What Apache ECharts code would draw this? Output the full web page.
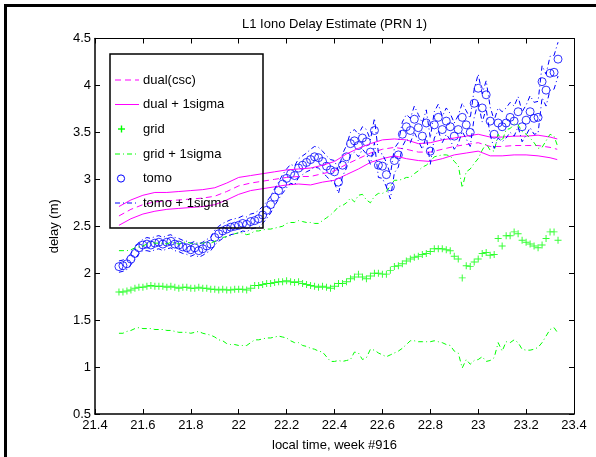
<!DOCTYPE html>
<html>
<head>
<meta charset="utf-8">
<title>L1 Iono Delay Estimate (PRN 1)</title>
<script src="https://cdn.jsdelivr.net/npm/echarts@6.0.0/dist/echarts.min.js"></script>
<style>
  html, body { margin: 0; padding: 0; background: #fff; }
  #chart { width: 596px; height: 457px; }
</style>
</head>
<body>
<div id="chart"></div>
<script>
  var FONT = '"Liberation Sans", Arial, Helvetica, sans-serif';

  // sample times: one sample per minute, 21.5 h .. 23.333 h
  var times = [];
  for (var k = 0; k <= 110; k++) {
    times.push(+(21.5 + k / 60).toFixed(4));
  }

  // tomographic estimate (circles)
  var tomo = [
    2.07, 2.08, 2.10, 2.15, 2.21, 2.27, 2.30, 2.31, 2.30, 2.32,
    2.33, 2.31, 2.33, 2.34, 2.31, 2.30, 2.28, 2.27, 2.25, 2.27,
    2.24, 2.26, 2.29, 2.31, 2.38, 2.42, 2.45, 2.47, 2.49, 2.50,
    2.51, 2.53, 2.52, 2.55, 2.56, 2.58, 2.62, 2.67, 2.73, 2.81,
    2.88, 2.95, 3.01, 3.06, 3.04, 3.12, 3.15, 3.18, 3.21, 3.24,
    3.23, 3.19, 3.14, 3.10, 3.08, 2.97, 3.15, 3.24, 3.38, 3.41,
    3.36, 3.44, 3.40, 3.29, 3.52, 3.15, 3.14, 3.05, 2.92, 3.20,
    3.26, 3.48, 3.56, 3.52, 3.64, 3.55, 3.46, 3.60, 3.30, 3.58,
    3.66, 3.53, 3.62, 3.56, 3.46, 3.53, 3.66, 3.58, 3.50, 3.81,
    3.97, 3.76, 3.90, 3.62, 3.48, 3.60, 3.56, 3.60, 3.66, 3.62,
    3.72, 3.56, 3.63, 3.72, 3.65, 3.66, 4.04, 3.95, 4.13, 4.14, 4.28
  ];
  var tomoSigma = [
    0.06, 0.06, 0.06, 0.06, 0.06, 0.06, 0.06, 0.07, 0.07, 0.07,
    0.07, 0.07, 0.07, 0.07, 0.07, 0.07, 0.07, 0.07, 0.07, 0.07,
    0.07, 0.07, 0.07, 0.07, 0.08, 0.08, 0.08, 0.08, 0.08, 0.08,
    0.08, 0.08, 0.08, 0.08, 0.08, 0.09, 0.09, 0.09, 0.09, 0.09,
    0.09, 0.10, 0.10, 0.10, 0.10, 0.10, 0.10, 0.10, 0.11, 0.11,
    0.11, 0.11, 0.11, 0.11, 0.12, 0.12, 0.12, 0.12, 0.12, 0.12,
    0.12, 0.12, 0.13, 0.13, 0.13, 0.13, 0.13, 0.13, 0.13, 0.13,
    0.13, 0.13, 0.13, 0.13, 0.14, 0.14, 0.14, 0.14, 0.14, 0.14,
    0.14, 0.14, 0.14, 0.14, 0.14, 0.15, 0.15, 0.15, 0.15, 0.15,
    0.15, 0.15, 0.15, 0.15, 0.15, 0.16, 0.16, 0.16, 0.16, 0.16,
    0.16, 0.16, 0.16, 0.17, 0.17, 0.17, 0.17, 0.17, 0.18, 0.18, 0.18
  ];

  // grid estimate (plus markers)
  var grid = [
    1.80, 1.80, 1.81, 1.82, 1.84, 1.85, 1.85, 1.86, 1.87, 1.86,
    1.86, 1.86, 1.85, 1.86, 1.85, 1.84, 1.85, 1.85, 1.84, 1.84,
    1.85, 1.84, 1.84, 1.83, 1.83, 1.82, 1.83, 1.82, 1.82, 1.83,
    1.83, 1.83, 1.82, 1.84, 1.87, 1.87, 1.88, 1.89, 1.89, 1.90,
    1.91, 1.91, 1.92, 1.91, 1.90, 1.91, 1.89, 1.88, 1.87, 1.86,
    1.85, 1.86, 1.85, 1.84, 1.86, 1.89, 1.89, 1.91, 1.94, 1.96,
    1.99, 1.96, 1.94, 1.97, 2.00, 2.00, 1.99, 1.99, 2.03, 2.07,
    2.08, 2.10, 2.13, 2.15, 2.17, 2.18, 2.20, 2.21, 2.23, 2.26,
    2.26, 2.26, 2.25, 2.24, 2.18, 2.15, 1.95, 2.08, 2.07, 2.12,
    2.15, 2.21, 2.22, 2.19, 2.20, 2.37, 2.29, 2.40, 2.40, 2.44,
    2.42, 2.35, 2.33, 2.31, 2.29, 2.27, 2.30, 2.37, 2.44, 2.44, 2.35
  ];
  var gridSigma = [
    0.44, 0.44, 0.43, 0.43, 0.43, 0.43, 0.44, 0.45, 0.46, 0.46,
    0.46, 0.46, 0.46, 0.47, 0.47, 0.47, 0.48, 0.48, 0.48, 0.47,
    0.47, 0.48, 0.49, 0.49, 0.51, 0.53, 0.55, 0.57, 0.58, 0.59,
    0.60, 0.60, 0.59, 0.58, 0.58, 0.58, 0.58, 0.58, 0.58, 0.58,
    0.58, 0.59, 0.61, 0.63, 0.64, 0.65, 0.66, 0.66, 0.67, 0.67,
    0.68, 0.70, 0.74, 0.78, 0.80, 0.82, 0.83, 0.84, 0.86, 0.80,
    0.84, 0.88, 0.84, 0.78, 0.82, 0.85, 0.86, 0.88, 0.90, 0.92,
    0.91, 0.90, 0.89, 0.87, 0.89, 0.91, 0.93, 0.94, 0.96, 0.98,
    0.99, 1.00, 1.01, 1.01, 1.01, 1.00, 0.96, 1.00, 1.04, 1.05,
    1.07, 1.10, 1.16, 1.12, 1.10, 1.11, 1.12, 1.13, 1.14, 1.15,
    1.16, 1.16, 1.15, 1.13, 1.10, 1.06, 1.04, 1.04, 1.04, 1.02, 0.99
  ];

  // dual frequency (csc) estimate, smoother, read every 3 min
  var dualTimes = [
    21.50, 21.55, 21.60, 21.65, 21.70, 21.75, 21.80, 21.85, 21.90, 21.95,
    22.00, 22.05, 22.10, 22.15, 22.20, 22.25, 22.30, 22.35, 22.40, 22.45,
    22.50, 22.55, 22.60, 22.65, 22.70, 22.75, 22.80, 22.85, 22.90, 22.95,
    23.00, 23.05, 23.10, 23.15, 23.20, 23.25, 23.30, 23.33
  ];
  var dual = [
    2.61, 2.68, 2.73, 2.76, 2.77, 2.78, 2.79, 2.80, 2.82, 2.87,
    2.93, 2.96, 2.98, 3.00, 3.02, 3.03, 3.03, 3.06, 3.09, 3.16,
    3.22, 3.28, 3.32, 3.34, 3.32, 3.29, 3.29, 3.32, 3.35, 3.37,
    3.39, 3.35, 3.35, 3.36, 3.36, 3.36, 3.34, 3.32
  ];
  var dualSigma = [
    0.10, 0.10, 0.10, 0.10, 0.09, 0.09, 0.09, 0.09, 0.09, 0.09,
    0.09, 0.08, 0.08, 0.08, 0.08, 0.08, 0.09, 0.09, 0.10, 0.11,
    0.11, 0.10, 0.10, 0.09, 0.10, 0.09, 0.10, 0.10, 0.09, 0.09,
    0.09, 0.10, 0.10, 0.10, 0.10, 0.11, 0.11, 0.11
  ];

  var MAGENTA = '#ff00ff', GREEN = '#00ff00', BLUE = '#0000ff';
  var DASH = [6, 4];
  var DASHDOT = [5, 3, 1, 3];

  function pts(t, v) {
    return v.map(function (y, i) { return [t[i], y]; });
  }
  function band(t, v, s, sign) {
    return v.map(function (y, i) { return [t[i], +(y + sign * s[i]).toFixed(3)]; });
  }
  function lineSeries(name, data, color, type) {
    return {
      name: name, type: 'line', data: data, symbol: 'none', animation: false,
      lineStyle: { color: color, width: 1, type: type }
    };
  }

  var chart = echarts.init(document.getElementById('chart'), null, { renderer: 'canvas' });

  var axisBase = {
    type: 'value',
    splitLine: { show: false },
    axisLine: { onZero: false, lineStyle: { color: '#000', width: 1 } },
    axisTick: { inside: true, length: 5, lineStyle: { color: '#000' } }
  };
  var labelStyle = { color: '#000', fontSize: 13, fontFamily: FONT };

  var option = {
    animation: false,
    backgroundColor: '#fff',
    grid: { left: 95, right: 22, top: 38.5, bottom: 40.5, containLabel: false },
    xAxis: [
      echarts.util.merge({
        min: 21.4, max: 23.4, interval: 0.2, position: 'bottom',
        axisLine: { lineStyle: { width: 1.5 } },
        axisLabel: echarts.util.extend({ margin: 5, showMinLabel: true, showMaxLabel: true }, labelStyle),
        name: 'local time, week #916', nameLocation: 'middle', nameGap: 25,
        nameTextStyle: labelStyle
      }, axisBase),
      echarts.util.merge({
        min: 21.4, max: 23.4, interval: 0.2, position: 'top',
        axisLabel: { show: false }
      }, axisBase)
    ],
    yAxis: [
      echarts.util.merge({
        min: 0.5, max: 4.5, interval: 0.5, position: 'left',
        axisLine: { lineStyle: { width: 1.5 } },
        axisLabel: echarts.util.extend({ margin: 4, showMinLabel: true, showMaxLabel: true }, labelStyle),
        name: 'delay (m)', nameLocation: 'middle', nameGap: 34,
        nameTextStyle: labelStyle
      }, axisBase),
      echarts.util.merge({
        min: 0.5, max: 4.5, interval: 0.5, position: 'right',
        axisLabel: { show: false }
      }, axisBase)
    ],
    series: [
      lineSeries('dual(csc)', pts(dualTimes, dual), MAGENTA, DASH),
      lineSeries('dual + 1sigma', band(dualTimes, dual, dualSigma, 1), MAGENTA, 'solid'),
      lineSeries('dual + 1sigma', band(dualTimes, dual, dualSigma, -1), MAGENTA, 'solid'),
      {
        name: 'grid', type: 'scatter', data: pts(times, grid), animation: false,
        symbol: 'path://M0,4.3H10V5.7H0Z M4.3,0H5.7V10H4.3Z', symbolSize: 7,
        itemStyle: { color: GREEN }
      },
      lineSeries('grid + 1sigma', band(times, grid, gridSigma, 1), GREEN, DASHDOT),
      lineSeries('grid + 1sigma', band(times, grid, gridSigma, -1), GREEN, DASHDOT),
      {
        name: 'tomo', type: 'scatter', data: pts(times, tomo), animation: false,
        symbol: 'circle', symbolSize: 8,
        itemStyle: { color: 'rgba(0,0,0,0)', borderColor: BLUE, borderWidth: 1 }
      },
      lineSeries('tomo + 1sigma', band(times, tomo, tomoSigma, 1), BLUE, DASHDOT),
      lineSeries('tomo + 1sigma', band(times, tomo, tomoSigma, -1), BLUE, DASHDOT)
    ],
    graphic: []
  };

  // figure frame, title and the boxed legend
  var g = option.graphic;
  g.push({ type: 'rect', z: 100, silent: true,
    shape: { x: 5.5, y: 5.5, width: 800, height: 800 },
    style: { fill: 'none', stroke: '#000', lineWidth: 3 } });
  g.push({ type: 'text', z: 100, silent: true,
    style: { text: 'L1 Iono Delay Estimate (PRN 1)', x: 334.5, y: 24,
      textAlign: 'center', textVerticalAlign: 'middle', align: 'center', verticalAlign: 'middle',
      font: '13px ' + FONT, fill: '#000' } });
  g.push({ type: 'rect', z: 100, silent: true,
    shape: { x: 110, y: 54, width: 153, height: 174 },
    style: { fill: 'none', stroke: '#000', lineWidth: 1.5 } });

  var legendRows = [
    { text: 'dual(csc)', y: 80, kind: 'line', color: MAGENTA, dash: DASH },
    { text: 'dual + 1sigma', y: 104.5, kind: 'line', color: MAGENTA, dash: null },
    { text: 'grid', y: 129, kind: 'plus', color: GREEN },
    { text: 'grid + 1sigma', y: 154, kind: 'line', color: GREEN, dash: DASHDOT },
    { text: 'tomo', y: 178.5, kind: 'circle', color: BLUE },
    { text: 'tomo + 1sigma', y: 203, kind: 'line', color: BLUE, dash: DASHDOT }
  ];
  legendRows.forEach(function (r) {
    if (r.kind === 'line') {
      g.push({ type: 'line', z: 101, silent: true,
        shape: { x1: 115, y1: r.y, x2: 139, y2: r.y },
        style: { stroke: r.color, lineWidth: 1, lineDash: r.dash } });
    } else if (r.kind === 'plus') {
      g.push({ type: 'line', z: 101, silent: true,
        shape: { x1: 118, y1: r.y, x2: 125, y2: r.y },
        style: { stroke: r.color, lineWidth: 1.4 } });
      g.push({ type: 'line', z: 101, silent: true,
        shape: { x1: 121.5, y1: r.y - 3.5, x2: 121.5, y2: r.y + 3.5 },
        style: { stroke: r.color, lineWidth: 1.4 } });
    } else {
      g.push({ type: 'circle', z: 101, silent: true,
        shape: { cx: 121, cy: r.y, r: 3.6 },
        style: { fill: 'none', stroke: r.color, lineWidth: 1 } });
    }
    g.push({ type: 'text', z: 101, silent: true,
      style: { text: r.text, x: 143, y: r.y,
        textAlign: 'left', textVerticalAlign: 'middle', align: 'left', verticalAlign: 'middle',
        font: '13px ' + FONT, fill: '#000' } });
  });

  chart.setOption(option);
</script>
</body>
</html>
